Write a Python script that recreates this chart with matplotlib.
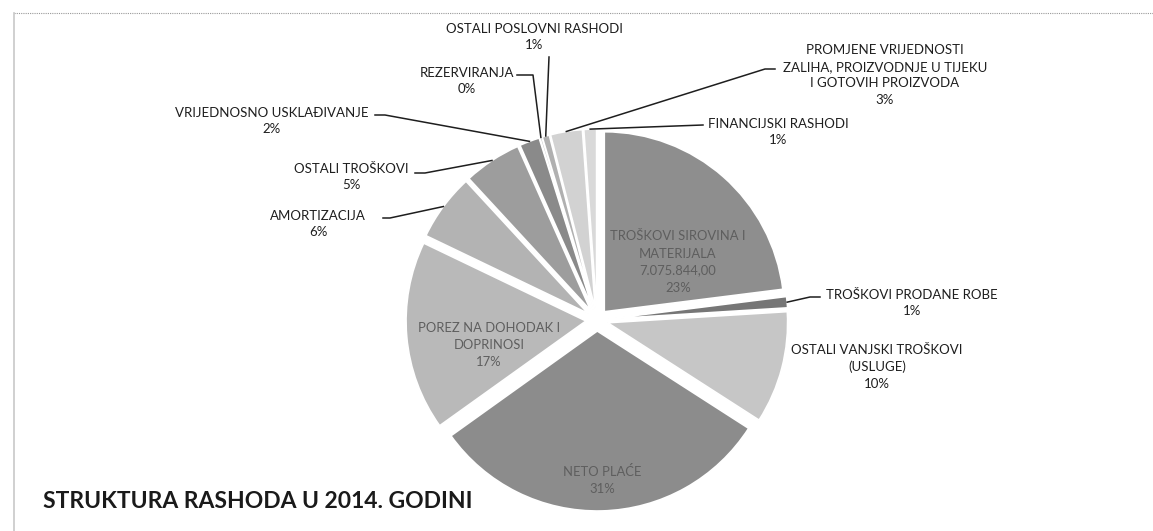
import numpy as np
import matplotlib.pyplot as plt

plt.rcParams['font.family'] = ['Lato', 'DejaVu Sans']

# kategorije rashoda (redom od vrha, u smjeru kazaljke)
kategorije = [
    "TROŠKOVI SIROVINA I\nMATERIJALA",
    "TROŠKOVI PRODANE ROBE",
    "OSTALI VANJSKI TROŠKOVI\n(USLUGE)",
    "NETO PLAĆE",
    "POREZ NA DOHODAK I\nDOPRINOSI",
    "AMORTIZACIJA",
    "OSTALI TROŠKOVI",
    "VRIJEDNOSNO USKLAĐIVANJE",
    "REZERVIRANJA",
    "OSTALI POSLOVNI RASHODI",
    "PROMJENE VRIJEDNOSTI\nZALIHA, PROIZVODNJE U TIJEKU\nI GOTOVIH PROIZVODA",
    "FINANCIJSKI RASHODI",
]
# iznosi u kunama (procjena, osim prvog)
iznosi = [7075844, 310000, 3100000, 9540000, 5230000, 1850000,
          1600000, 560000, 60000, 200000, 880000, 350000]
boje = ["#8e8e8e", "#767676", "#c6c6c6", "#8c8c8c", "#b9b9b9", "#b3b3b3",
        "#9d9d9d", "#8a8a8a", "#c2c2c2", "#b0b0b0", "#d2d2d2", "#d9d9d9"]

W, H = 1153, 531
fig = plt.figure(figsize=(W / 100, H / 100), dpi=100)
ax = fig.add_axes([0, 0, 1, 1])


def fy(py):
    return H - py


# explode je u jedinicama podataka (pikseli)
wedges, _ = ax.pie(iznosi, colors=boje, startangle=90, counterclock=False,
                   radius=180, center=(597, fy(320)), explode=[11] * len(iznosi),
                   wedgeprops=dict(edgecolor="white", linewidth=1.2), frame=True)
ax.set_xlim(0, W)
ax.set_ylim(0, H)
ax.set_aspect("equal")
ax.axis("off")

ukupno = sum(iznosi)
posto = [round(v / ukupno * 100) for v in iznosi]


def rub(i, frac=0.5):
    w = wedges[i]
    a = np.deg2rad(w.theta1 + (w.theta2 - w.theta1) * frac)
    return w.center[0] + w.r * np.cos(a), w.center[1] + w.r * np.sin(a)


# unutarnje oznake
siva = "#5e5e5e"
iznos_txt = f"{iznosi[0]:,.2f}".replace(",", "X").replace(".", ",").replace("X", ".")
ax.text(678, fy(262), kategorije[0] + "\n" + iznos_txt + f"\n{posto[0]}%",
        ha="center", va="center", fontsize=9.4, color=siva, linespacing=1.5)
ax.text(489, fy(345), kategorije[4] + f"\n{posto[4]}%", ha="center", va="center",
        fontsize=9.4, color=siva, linespacing=1.5)
ax.text(602, fy(480), kategorije[3] + f"\n{posto[3]}%", ha="center", va="center",
        fontsize=9.4, color=siva, linespacing=1.5)

# vanjske oznake: (indeks, centar teksta x, y, točke linije kod teksta)
crna = "#1e1e1e"
vanjske = [
    (9, 534, 37, [(549, 57)]),
    (8, 467, 81, [(517, 75), (533, 75)]),
    (7, 272, 121, [(375, 115), (385, 115)]),
    (6, 351, 177, [(415, 173), (425, 173)]),
    (5, 318, 224, [(383, 218), (390, 218)]),
    (10, 885, 75, [(775, 69), (765, 69)]),
    (11, 778, 132, [(703, 125)]),
    (1, 912, 303, [(820, 297), (810, 297)]),
]
for i, tx, ty, pts in vanjske:
    ax.text(tx, fy(ty), kategorije[i] + f"\n{posto[i]}%", ha="center", va="center",
            fontsize=9.5, color=crna, linespacing=1.45)
    ex, ey = rub(i)
    xs = [p[0] for p in pts] + [ex]
    ys = [fy(p[1]) for p in pts] + [ey]
    ax.plot(xs, ys, color=crna, linewidth=1.1)

ax.text(877, fy(367), kategorije[2] + f"\n{posto[2]}%", ha="center", va="center",
        fontsize=9.5, color=crna, linespacing=1.45)

# naslov
ax.text(43, fy(502), "STRUKTURA RASHODA U 2014. GODINI", ha="left", va="center",
        fontsize=16.5, fontweight="bold", color="#1a1a1a")

# okvir skena
ax.plot([14, W], [fy(13), fy(13)], color="#999999", linewidth=0.8, linestyle=(0, (1, 1)))
ax.plot([14, 14], [fy(13), 0], color="#c8c8c8", linewidth=1.2)

fig.savefig("out.png", dpi=100)
